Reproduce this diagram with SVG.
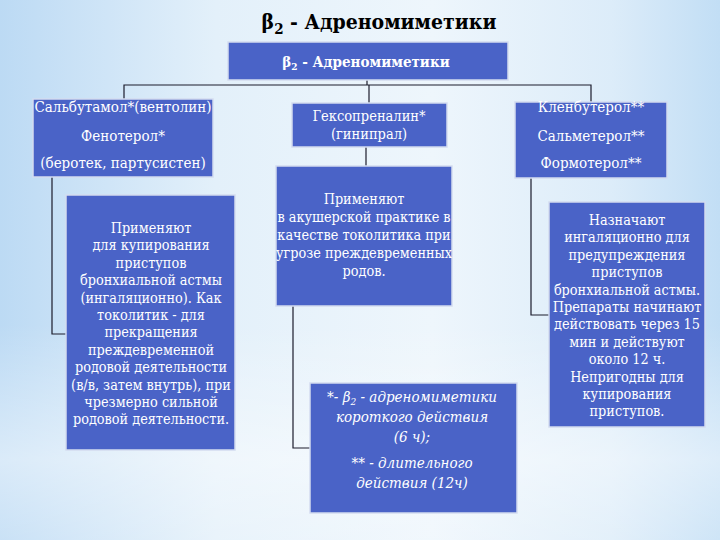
<svg xmlns="http://www.w3.org/2000/svg" width="720" height="540" viewBox="0 0 720 540">
<defs>
<linearGradient id="bg" x1="0" y1="0" x2="1" y2="0">
<stop offset="0" stop-color="#bcdaf4"/>
<stop offset="0.3" stop-color="#e3f0fa"/>
<stop offset="0.6" stop-color="#eef6fc"/>
<stop offset="0.85" stop-color="#dcecf9"/>
<stop offset="1" stop-color="#c2def5"/>
</linearGradient>
<linearGradient id="bgv" x1="0" y1="0" x2="0" y2="1">
<stop offset="0.6" stop-color="#ffffff" stop-opacity="0"/>
<stop offset="0.85" stop-color="#ffffff" stop-opacity="0.45"/>
<stop offset="1" stop-color="#ffffff" stop-opacity="0.2"/>
</linearGradient>
</defs>
<style>
.box{fill:#4a63c7;stroke:#d4dcef;stroke-width:1.5}
.t{font-family:"DejaVu Serif",serif;font-stretch:condensed;fill:#ffffff;text-anchor:middle}
.h{font-family:"DejaVu Serif",serif;font-stretch:condensed;fill:#000000;text-anchor:middle;font-weight:bold;font-size:21px}
.n{font-size:15px}
.m{font-size:14.5px}
.s{font-size:14.3px}
.i{font-size:15px;font-style:italic}
.c{fill:none;stroke:#1c1c2c;stroke-width:1.2}
</style>
<rect width="720" height="540" fill="url(#bg)"/>
<rect width="720" height="540" fill="url(#bgv)"/>
<text class="h" x="379" y="29">β<tspan font-size="15" dy="5">2</tspan><tspan dy="-5"> - Адреномиметики</tspan></text>
<g id="connectors">
<polyline class="c" points="367,80 367,85"/>
<polyline class="c" points="124,99 124,85 591,85 591,102"/>
<polyline class="c" points="369,85 369,103"/>
<polyline class="c" points="366,147 366,166"/>
<polyline class="c" points="52,177 52,334 66,334"/>
<polyline class="c" points="531,178 531,315 549,315"/>
<polyline class="c" points="293,306 293,448 310,448"/>
</g>
<g id="root">
<rect class="box" x="228" y="42" width="280" height="38"/>
<text class="t" x="366" y="67" font-size="15" font-weight="bold">β<tspan font-size="10" dy="3">2</tspan><tspan dy="-3"> - Адреномиметики</tspan></text>
</g>
<g id="left-top">
<rect class="box" x="33" y="99" width="180" height="78"/>
<text class="t n"><tspan x="123" y="112">Сальбутамол*(вентолин)</tspan><tspan x="123" y="141">Фенотерол*</tspan><tspan x="123" y="168">(беротек, партусистен)</tspan></text>
</g>
<g id="mid-top">
<rect class="box" x="292" y="103" width="155" height="44"/>
<text class="t m"><tspan x="369" y="121">Гексопреналин*</tspan><tspan x="369" y="139">(гинипрал)</tspan></text>
</g>
<g id="right-top">
<rect class="box" x="515" y="102" width="152" height="76"/>
<text class="t n"><tspan x="591" y="112">Кленбутерол**</tspan><tspan x="591" y="141">Сальметерол**</tspan><tspan x="591" y="168">Формотерол**</tspan></text>
</g>
<g id="left-bottom">
<rect class="box" x="66" y="195" width="169" height="255"/>
<text class="t s"><tspan x="151" y="233">Применяют</tspan><tspan x="151" y="250.4">для купирования</tspan><tspan x="151" y="267.8">приступов</tspan><tspan x="151" y="285.2">бронхиальной астмы</tspan><tspan x="151" y="302.6">(ингаляционно). Как</tspan><tspan x="151" y="320">токолитик - для</tspan><tspan x="151" y="337.4">прекращения</tspan><tspan x="151" y="354.8">преждевременной</tspan><tspan x="151" y="372.2">родовой деятельности</tspan><tspan x="151" y="389.6">(в/в, затем внутрь), при</tspan><tspan x="151" y="407">чрезмерно сильной</tspan><tspan x="151" y="424.4">родовой деятельности.</tspan></text>
</g>
<g id="mid-bottom">
<rect class="box" x="276" y="166" width="176" height="140"/>
<text class="t s"><tspan x="364" y="204">Применяют</tspan><tspan x="364" y="222">в акушерской практике в</tspan><tspan x="364" y="240">качестве токолитика при</tspan><tspan x="364" y="258">угрозе преждевременных</tspan><tspan x="364" y="276">родов.</tspan></text>
</g>
<g id="right-bottom">
<rect class="box" x="549" y="202" width="156" height="225"/>
<text class="t s"><tspan x="627" y="225">Назначают</tspan><tspan x="627" y="242.4">ингаляционно для</tspan><tspan x="627" y="259.8">предупреждения</tspan><tspan x="627" y="277.2">приступов</tspan><tspan x="627" y="294.6">бронхиальной астмы.</tspan><tspan x="627" y="312">Препараты начинают</tspan><tspan x="627" y="329.4">действовать через 15</tspan><tspan x="627" y="346.8">мин и действуют</tspan><tspan x="627" y="364.2">около 12 ч.</tspan><tspan x="627" y="381.6">Непригодны для</tspan><tspan x="627" y="399">купирования</tspan><tspan x="627" y="416.4">приступов.</tspan></text>
</g>
<g id="footnote">
<rect class="box" x="310" y="383" width="207" height="130"/>
<text class="t i"><tspan x="412" y="402">*- β<tspan font-size="10" dy="3">2</tspan><tspan dy="-3"> - адреномиметики</tspan></tspan><tspan x="412" y="422">короткого действия</tspan><tspan x="412" y="442">(6 ч);</tspan><tspan x="412" y="468">** - длительного</tspan><tspan x="412" y="488">действия (12ч)</tspan></text>
</g>
</svg>
